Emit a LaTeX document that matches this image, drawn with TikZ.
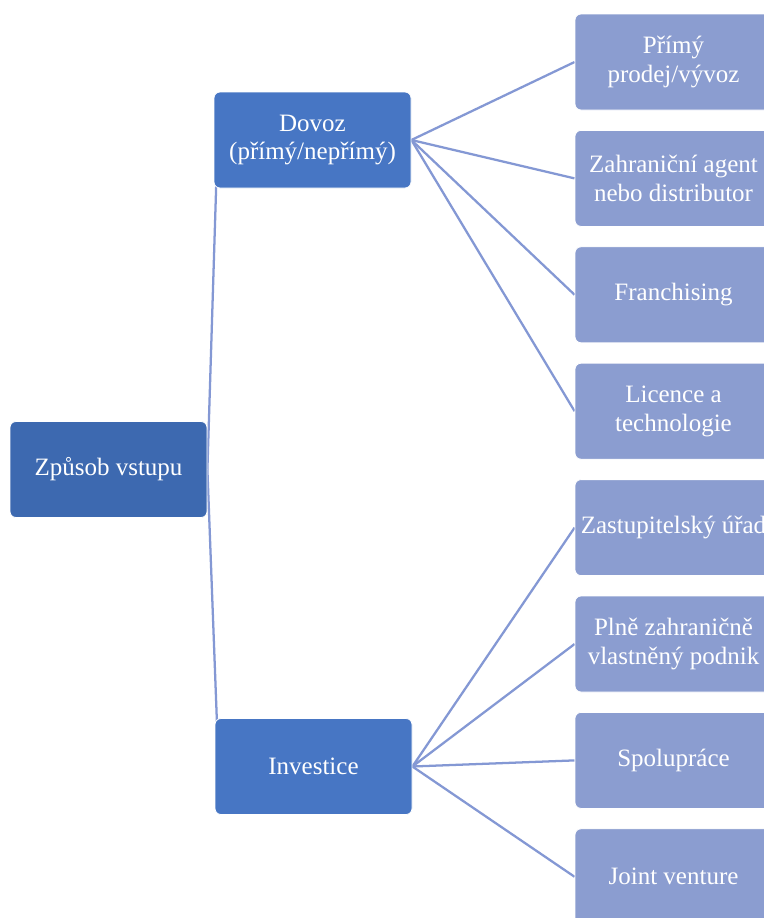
\documentclass[tikz,border=0pt]{standalone}
\usepackage{fontspec}
\setmainfont{Liberation Serif}
\usetikzlibrary{backgrounds}
\definecolor{rootblue}{RGB}{61,105,176}
\definecolor{midblue}{RGB}{71,118,196}
\definecolor{leafblue}{RGB}{139,157,208}
\definecolor{linkblue}{RGB}{132,152,212}
\tikzset{
  box/.style={rectangle,rounded corners=4.5pt,draw=white,line width=0.6pt,text=white,
    minimum width=147.75pt,minimum height=72pt,align=center,inner sep=1pt,
    font=\fontsize{18.75}{21.5}\selectfont},
  rootbox/.style={box,fill=rootblue},
  midbox/.style={box,fill=midblue},
  leafbox/.style={box,fill=leafblue},
  link/.style={draw=linkblue,line width=1.7pt}
}
\begin{document}
\begin{tikzpicture}[x=0.75pt,y=-0.75pt]
    \useasboundingbox (0,0) rectangle (764,918);
    \node[rootbox] (root) at (108.5,469.5) {Způsob vstupu};
    \node[midbox] (dovoz) at (312.5,140) {Dovoz\\(přímý/nepřímý)};
    \node[midbox] (invest) at (313.5,766.5) {Investice};
    \foreach \i/\t in {1/{Přímý\\prodej/vývoz},2/{Zahraniční agent\\nebo distributor},
        3/Franchising,4/{Licence a\\technologie},5/{Zastupitelský úřad},
        6/{Plně zahraničně\\vlastněný podnik},7/Spolupráce,8/{Joint venture}}
      \node[leafbox] (leaf\i) at (673.5,{62+116.4*(\i-1)}) {\t};
    \begin{scope}[on background layer]
      \fill[white] (0,0) rectangle (764,918);
      \draw[link] (root.east) -- ([xshift=3pt]dovoz.west);
      \draw[link] (root.east) -- ([xshift=3pt]invest.west);
      \foreach \i in {1,...,4} \draw[link] (dovoz.east) -- (leaf\i.west);
      \foreach \i in {5,...,8} \draw[link] (invest.east) -- (leaf\i.west);
    \end{scope}
\end{tikzpicture}
\end{document}
